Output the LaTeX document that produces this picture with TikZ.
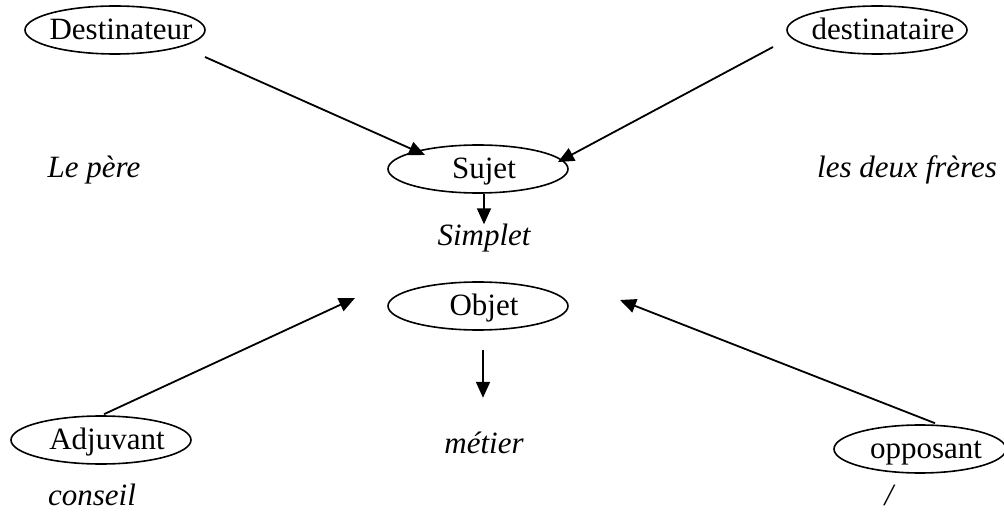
\documentclass[tikz,border=0pt]{standalone}
\usepackage{fontspec}
\setmainfont{Liberation Serif}
\usetikzlibrary{arrows.meta,shapes.geometric}
% text inside an oval, set slightly right of the oval's centre
\newcommand\inoval[1]{\makebox[0pt]{\hspace*{12pt}#1}}
\begin{document}
\begin{tikzpicture}[x=1pt,y=-1pt,
  oval/.style={draw, ellipse, line width=1.6pt, inner sep=0pt,
    minimum width=180pt, minimum height=48pt,
    text height=19pt, text depth=0pt, font=\fontsize{31}{37}\selectfont},
  lbl/.style={anchor=base, inner sep=0pt, font=\fontsize{31}{37}\selectfont\itshape},
  arr/.style={line width=1.8pt, -{Triangle[length=16pt,width=14pt]}}]
\useasboundingbox (0,0) rectangle (1004,513);

% actants
\node[oval] (dest)  at (115,30)  {\inoval{Destinateur}};
\node[oval] (desti) at (877,30)  {\inoval{destinataire}};
\node[oval] (suj)   at (478,169) {\inoval{Sujet}};
\node[oval] (obj)   at (478,306) {\inoval{Objet}};
\node[oval] (adj)   at (101,440) {\inoval{Adjuvant}};
\node[oval, minimum width=172pt] (opp) at (920,449) {\inoval{opposant}};

% roles in the tale
\node[lbl] (pere)    at (94,178)  {Le père};
\node[lbl] (freres)  at (907,178) {les deux frères};
\node[lbl] (simplet) at (484,246) {Simplet};
\node[lbl] (metier)  at (484,453) {métier};
\node[lbl] (conseil) at (92,505)  {conseil};
\node[lbl] (aucun)   at (889,505) {/};

% connector ends
\coordinate (destOut) at ([shift={(90,27)}]dest.center);
\coordinate (sujW)    at ([shift={(-53,-14)}]suj.center);
\coordinate (destiOut) at ([shift={(-104,17)}]desti.center);
\coordinate (sujE)    at ([shift={(80,-7)}]suj.center);
\coordinate (objDown) at ([shift={(5,19)}]obj.south);
\coordinate (objTip)  at ([shift={(5,67)}]obj.south);
\coordinate (adjOut)  at ([shift={(3,-1)}]adj.north);
\coordinate (objW)    at ([shift={(-123,-8)}]obj.center);
\coordinate (oppOut)  at ([shift={(15,-1)}]opp.north);
\coordinate (objE)    at ([shift={(142,-6)}]obj.center);

% connectors
\draw[arr] (destOut) -- (sujW);
\draw[arr] (destiOut) -- (sujE);
\draw[arr] (suj.south -| simplet.north) -- (simplet.north);
\draw[arr] (objDown) -- (objTip);
\draw[arr] (adjOut) -- (objW);
\draw[arr] (oppOut) -- (objE);
\end{tikzpicture}
\end{document}
